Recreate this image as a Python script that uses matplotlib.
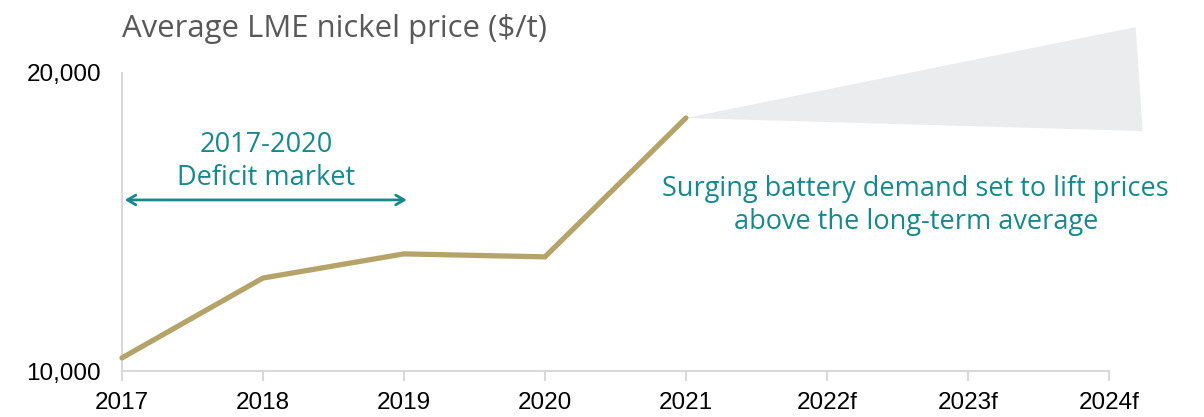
import matplotlib.pyplot as plt
from matplotlib.patches import Polygon

# Average LME nickel price, $/t
years = ['2017', '2018', '2019', '2020', '2021', '2022f', '2023f', '2024f']
prices = [10440, 13120, 13930, 13830, 18490]

# Forecast fan: opens from the 2021 point towards the right edge
fan_x = [4, 7.19, 7.24]
fan_y = [18490, 21540, 18050]

gold = '#B5A46A'
teal = '#17898E'
grey_text = '#595959'
axis_grey = '#D9D9D9'

fig = plt.figure(figsize=(12.04, 4.17), dpi=100)
ax = fig.add_axes([0.1013, 0.1103, 0.8197, 0.7147])

ax.add_patch(Polygon(list(zip(fan_x, fan_y)), closed=True, facecolor='#EBECEE',
                     edgecolor='none', clip_on=False, zorder=1))

ax.plot(range(len(prices)), prices, color=gold, linewidth=3.8,
        solid_capstyle='round', solid_joinstyle='round', zorder=3, clip_on=False)

ax.set_xlim(0, len(years) - 1)
ax.set_ylim(10000, 20000)
ax.set_xticks(range(len(years)))
ax.set_xticklabels(years, fontfamily='Liberation Sans', fontsize=17.5)
ax.set_yticks([10000, 20000])
ax.set_yticklabels(['10,000', '20,000'], fontfamily='Liberation Sans', fontsize=17.5)
ax.tick_params(axis='x', length=7, width=1.5, color=axis_grey, pad=8)
ax.tick_params(axis='y', length=0, pad=15)

for side in ['top', 'right']:
    ax.spines[side].set_visible(False)
for side in ['left', 'bottom']:
    ax.spines[side].set_color(axis_grey)
    ax.spines[side].set_linewidth(1.5)

fig.text(0.1013, 0.912, 'Average LME nickel price ($/t)', fontfamily='Open Sans',
         fontsize=22.4, color=grey_text, ha='left', va='baseline')

# Deficit period marker
ax.annotate('', xy=(0, 15740), xytext=(2.04, 15740),
            arrowprops=dict(arrowstyle='<->,head_length=0.6,head_width=0.35',
                            color=teal, lw=2), annotation_clip=False)
ax.text(1.02, 17030, '2017-2020\nDeficit market', ha='center', va='center',
        fontfamily='Open Sans', fontsize=19.5, color=teal, linespacing=1.2)

ax.text(5.63, 15550, 'Surging battery demand set to lift prices\nabove the long-term average',
        ha='center', va='center', fontfamily='Open Sans', fontsize=19.5, color=teal,
        linespacing=1.22)

fig.savefig('out.png', dpi=100)
